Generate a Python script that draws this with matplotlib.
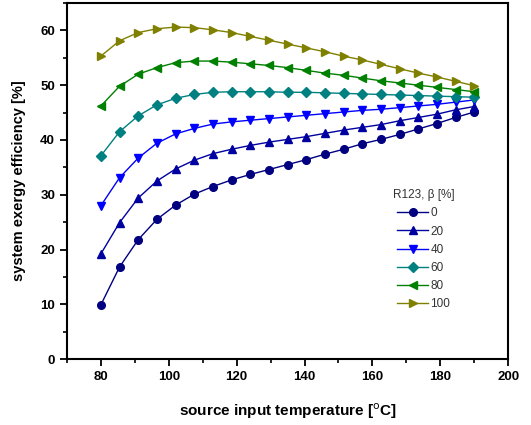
import numpy as np
import matplotlib
matplotlib.use("Agg")
import matplotlib.pyplot as plt
from matplotlib.ticker import MultipleLocator

plt.rcParams['font.family'] = ['Liberation Sans', 'DejaVu Sans']

# source temperature [C], 21 points from 80 to 190
temp = [80.0 + 5.5 * i for i in range(21)]

beta_labels = ["0", "20", "40", "60", "80", "100"]

eff_0 = [9.9, 16.8, 21.8, 25.5, 28.1, 30.1, 31.5, 32.7, 33.7, 34.6, 35.5,
         36.4, 37.4, 38.3, 39.3, 40.1, 41.0, 42.0, 43.0, 44.1, 45.1]
eff_20 = [19.2, 24.9, 29.4, 32.5, 34.7, 36.3, 37.5, 38.3, 39.0, 39.6, 40.1,
          40.6, 41.2, 41.8, 42.3, 42.8, 43.5, 44.1, 44.7, 45.5, 46.1]
eff_40 = [28.0, 33.1, 36.7, 39.4, 41.1, 42.1, 42.9, 43.3, 43.6, 43.9, 44.2,
          44.5, 44.8, 45.1, 45.4, 45.6, 45.9, 46.2, 46.5, 46.9, 47.3]
eff_60 = [37.1, 41.5, 44.4, 46.4, 47.6, 48.3, 48.7, 48.8, 48.8, 48.8, 48.7,
          48.7, 48.6, 48.5, 48.4, 48.3, 48.2, 48.1, 48.0, 47.9, 47.8]
eff_80 = [46.2, 49.8, 52.0, 53.2, 54.1, 54.4, 54.4, 54.2, 53.9, 53.6, 53.2,
          52.7, 52.2, 51.8, 51.3, 50.8, 50.4, 50.0, 49.6, 49.2, 48.8]
eff_100 = [55.3, 58.1, 59.6, 60.3, 60.6, 60.5, 60.1, 59.6, 58.9, 58.2, 57.5,
           56.8, 56.1, 55.3, 54.6, 53.8, 53.0, 52.2, 51.5, 50.7, 49.9]

series = [eff_0, eff_20, eff_40, eff_60, eff_80, eff_100]
colors = ["#000080", "#0000A0", "#0000FF", "#008080", "#008000", "#808000"]
markers = ["o", "^", "v", "D", "<", ">"]
msizes = [5.5, 6, 6, 5, 6, 6]

fig = plt.figure(figsize=(5.31, 4.25), dpi=100)
ax = fig.add_axes([0.126, 0.155, 0.831, 0.838])

for vals, lab, c, m, ms in zip(series, beta_labels, colors, markers, msizes):
    ax.plot(temp, vals, color=c, marker=m, markersize=ms, linewidth=1.0,
            markeredgecolor=c, label=lab)

ax.set_xlim(70, 200)
ax.set_ylim(0, 65)
ax.xaxis.set_major_locator(MultipleLocator(20))
ax.xaxis.set_minor_locator(MultipleLocator(10))
ax.yaxis.set_major_locator(MultipleLocator(10))
ax.yaxis.set_minor_locator(MultipleLocator(5))
ax.set_xticks([80, 100, 120, 140, 160, 180, 200])

ax.tick_params(which='major', direction='out', length=5, width=1.3,
               labelsize=9.5, top=False, right=False)
ax.tick_params(which='minor', direction='out', length=3, width=1.2,
               top=False, right=False)
for lbl in ax.get_xticklabels() + ax.get_yticklabels():
    lbl.set_fontweight('bold')
for sp in ax.spines.values():
    sp.set_linewidth(1.5)

ax.set_xlabel(r"source input temperature [$^{\mathrm{o}}$C]", fontsize=11,
              fontweight='bold', labelpad=13)
ax.set_ylabel("system exergy efficiency [%]", fontsize=10.5,
              fontweight='bold', labelpad=10)

leg = ax.legend(title="R123, \u03b2 [%]", loc='upper left',
                bbox_to_anchor=(0.72, 0.50), frameon=False, fontsize=8.5,
                title_fontsize=8.5, handlelength=2.6, labelspacing=0.52,
                handletextpad=0.2, borderpad=0.2)
for t in leg.get_texts():
    t.set_color("#333333")
leg.get_title().set_color("#333333")

fig.savefig("out.png", dpi=100)
